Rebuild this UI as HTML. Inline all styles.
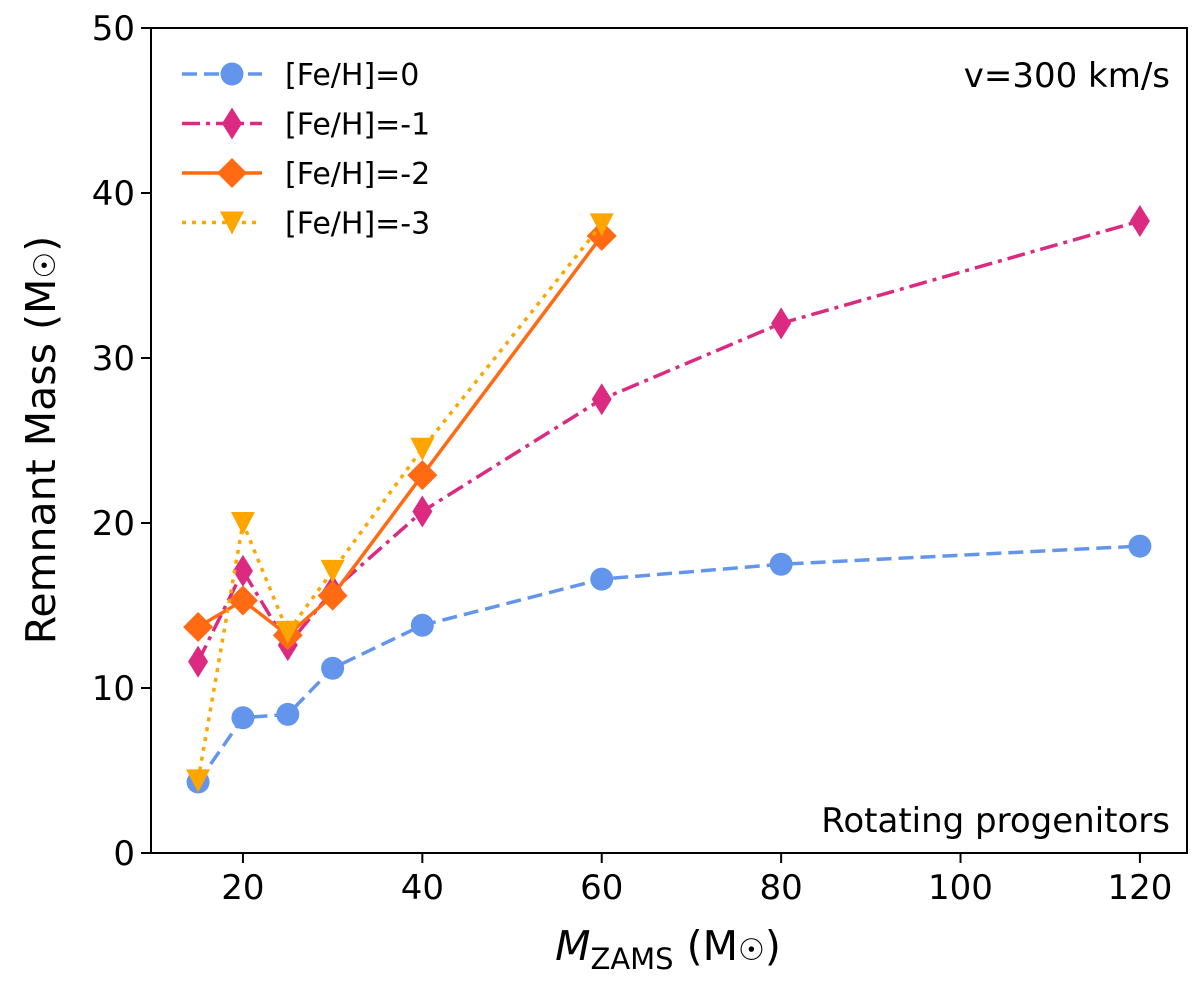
<!DOCTYPE html>
<html><head><meta charset="utf-8"><style>
body{margin:0;background:#fff;}
svg{display:block;font-family:"DejaVu Sans","Liberation Sans",sans-serif;}
</style></head><body>
<svg id="chart" width="1200" height="986" viewBox="0 0 1200 986">
<g id="plot"></g>
<rect x="151" y="28" width="1036" height="825" fill="none" stroke="#000" stroke-width="2"/>
<text x="1170" y="87" font-size="34" text-anchor="end">v=300 km/s</text>
<text x="1170" y="832" font-size="34" text-anchor="end">Rotating progenitors</text>
<text transform="translate(55,440) rotate(-90)" font-size="41" text-anchor="middle">Remnant Mass (M<tspan font-size="30">☉</tspan>)</text>
<text x="668" y="960" font-size="41" text-anchor="middle"><tspan font-style="italic">M</tspan><tspan font-size="29" dy="9">ZAMS</tspan><tspan dy="-9"> (M</tspan><tspan font-size="30">☉</tspan>)</text>
</svg>
<script>
const masses=[15,20,25,30,40,60,80,120];
const fe0=[4.3,8.2,8.4,11.2,13.8,16.6,17.5,18.6];
const fem1=[11.6,17.1,12.6,15.9,20.7,27.5,32.1,38.3];
const fem2=[13.7,15.3,13.2,15.6,22.9,37.4];
const fem3=[4.4,20.0,13.4,17.1,24.5,38.1];
const xTicks=[20,40,60,80,100,120];
const yTicks=[0,10,20,30,40,50];
const labels=["[Fe/H]=0","[Fe/H]=-1","[Fe/H]=-2","[Fe/H]=-3"];
const NS="http://www.w3.org/2000/svg";
const X0=151,X1=1187,Y0=853,Y1=28,xmin=9.75,xmax=125.25,ymin=0,ymax=50;
function xs(v){return X0+(v-xmin)/(xmax-xmin)*(X1-X0);}
function ys(v){return Y0-(v-ymin)/(ymax-ymin)*(Y0-Y1);}
const svg=document.getElementById('chart');
const plot=document.getElementById('plot');
function mk(tag,attrs,parent){const e=document.createElementNS(NS,tag);for(const k in attrs)e.setAttribute(k,attrs[k]);(parent||svg).appendChild(e);return e;}
xTicks.forEach(t=>{
 const l=mk('line',{x1:xs(t),x2:xs(t),y1:Y0,y2:Y0+10,stroke:'#000','stroke-width':2});
 
 
 const tx=mk('text',{x:xs(t),y:Y0+46,'font-size':34,'text-anchor':'middle'});tx.textContent=t;
 
 
});
yTicks.forEach(t=>{
 const l=mk('line',{x1:X0-10,x2:X0,y1:ys(t),y2:ys(t),stroke:'#000','stroke-width':2});
 
 
 const tx=mk('text',{x:X0-16,y:ys(t)+12,'font-size':34,'text-anchor':'end'});tx.textContent=t;
 
 
});
const styles=[
 {c:'#6495ed',dash:'15,7',m:'circle'},
 {c:'#dc2a80',dash:'18,6,4,6',m:'thin'},
 {c:'#ff6a13',dash:'',m:'diamond'},
 {c:'#ffa500',dash:'4,6',m:'tri'}];
function marker(m,x,y,c,parent){
 let e;
 if(m==='circle')e=mk('circle',{cx:x,cy:y,r:11.5,fill:c},parent);
 else if(m==='thin')e=mk('polygon',{points:`${x},${y-16} ${x+10},${y} ${x},${y+16} ${x-10},${y}`,fill:c},parent);
 else if(m==='diamond')e=mk('polygon',{points:`${x},${y-15} ${x+15},${y} ${x},${y+15} ${x-15},${y}`,fill:c},parent);
 else e=mk('polygon',{points:`${x-12},${y-11} ${x+12},${y-11} ${x},${y+12}`,fill:c},parent);
 return e;
}
const series=[fe0,fem1,fem2,fem3];
series.forEach((s,i)=>{
 const st=styles[i];
 const pts=s.map((v,j)=>xs(masses[j])+','+ys(v)).join(' ');
 const pl=mk('polyline',{points:pts,fill:'none',stroke:st.c,'stroke-width':3.5,'stroke-dasharray':st.dash},plot);
 
 
 s.forEach((v,j)=>{
  const e=marker(st.m,xs(masses[j]),ys(v),st.c,plot);
  
  
 });
});
labels.forEach((lab,i)=>{
 const st=styles[i];const y=74+i*49.5;
 const l=mk('line',{x1:182,x2:262,y1:y,y2:y,stroke:st.c,'stroke-width':3.5,'stroke-dasharray':st.dash});
 
 
 const m=marker(st.m,232,y,st.c);
 
 
 const t=mk('text',{x:285,y:y+11,'font-size':30});t.textContent=lab;
 
 
});
</script>
</body></html>
